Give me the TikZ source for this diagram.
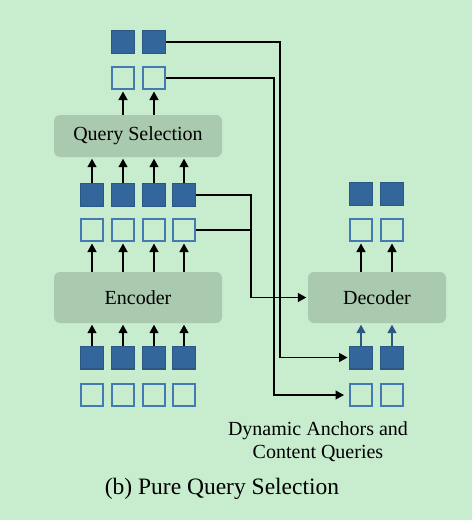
\documentclass[tikz,border=0pt]{standalone}
\usepackage{fontspec}
\setmainfont{Liberation Serif}
\usetikzlibrary{arrows.meta}
\definecolor{bgcol}{HTML}{C8ECCE}
\definecolor{boxcol}{HTML}{AACAAF}
\definecolor{qfill}{HTML}{33669A}
\definecolor{qdraw}{HTML}{2B5785}
\definecolor{qline}{HTML}{4579B3}

\begin{document}
\begin{tikzpicture}[x=1pt,y=-1pt,
  filled/.style={draw=qdraw,fill=qfill,line width=1.4pt,minimum size=22.6pt,inner sep=0pt},
  empty/.style={draw=qline,line width=1.7pt,minimum size=22.3pt,inner sep=0pt},
  block/.style={fill=boxcol,rounded corners=6pt,inner sep=0pt,font=\fontsize{20}{24}\selectfont},
  arr/.style={line width=1.3pt,-{Triangle[length=8.5pt,width=9pt]},shorten >=1.5pt},
  link/.style={line width=1.3pt},
  lbl/.style={font=\fontsize{20}{23}\selectfont,align=center}]
  \fill[bgcol] (0,0) rectangle (472,520);

  % query selection output
  \foreach \i/\x in {1/123,2/154} {
    \node[filled] (sa\i) at (\x,42) {};
    \node[empty] (sc\i) at (\x,78) {};
  }
  \node[block,minimum width=168pt,minimum height=42pt] (qsel) at (138,136) {Query Selection};

  % encoder output and input
  \foreach \i/\x in {1/92,2/123,3/154,4/184} {
    \node[filled] (ea\i) at (\x,195) {};
    \node[empty] (ec\i) at (\x,230) {};
    \node[filled] (ia\i) at (\x,357.5) {};
    \node[empty] (ic\i) at (\x,395) {};
  }
  \node[block,minimum width=168pt,minimum height=51pt] (enc) at (138,297.5) {Encoder};

  % decoder
  \node[block,minimum width=138pt,minimum height=51pt] (dec) at (377,297.5) {Decoder};
  \foreach \i/\x in {1/361,2/392} {
    \node[filled] (oa\i) at (\x,194) {};
    \node[empty] (oc\i) at (\x,230) {};
    \node[filled] (da\i) at (\x,357.5) {};
    \node[empty] (dc\i) at (\x,395) {};
  }

  % vertical arrows
  \foreach \i in {1,2} {
    \draw[arr] (sc\i.south |- qsel.north) -- (sc\i.south);
    \draw[arr] (oc\i.south |- dec.north) -- (oc\i.south);
    \draw[arr,qdraw] (da\i.north) -- (da\i.north |- dec.south);
  }
  \foreach \i in {1,...,4} {
    \draw[arr] (ea\i.north) -- (ea\i.north |- qsel.south);
    \draw[arr] (ec\i.south |- enc.north) -- (ec\i.south);
    \draw[arr] (ia\i.north) -- (ia\i.north |- enc.south);
  }

  % links to the decoder
  \draw[arr] (sa2.east) -- ++(114,0) |- (da1.west);
  \draw[arr,shorten >=5pt] (sc2.east) -- ++(108,0) |- (dc1.west);
  \draw[link] (ec4.east) -- ++(55,0);
  \draw[arr] (ea4.east) -- ++(55,0) |- (dec.west);

  \node[lbl] (qlabel) at (318,441.5) {Dynamic Anchors and\\Content Queries};
  \node[lbl,font=\fontsize{23.5}{28}\selectfont] (title) at (222,489) {(b) Pure Query Selection};
\end{tikzpicture}
\end{document}
